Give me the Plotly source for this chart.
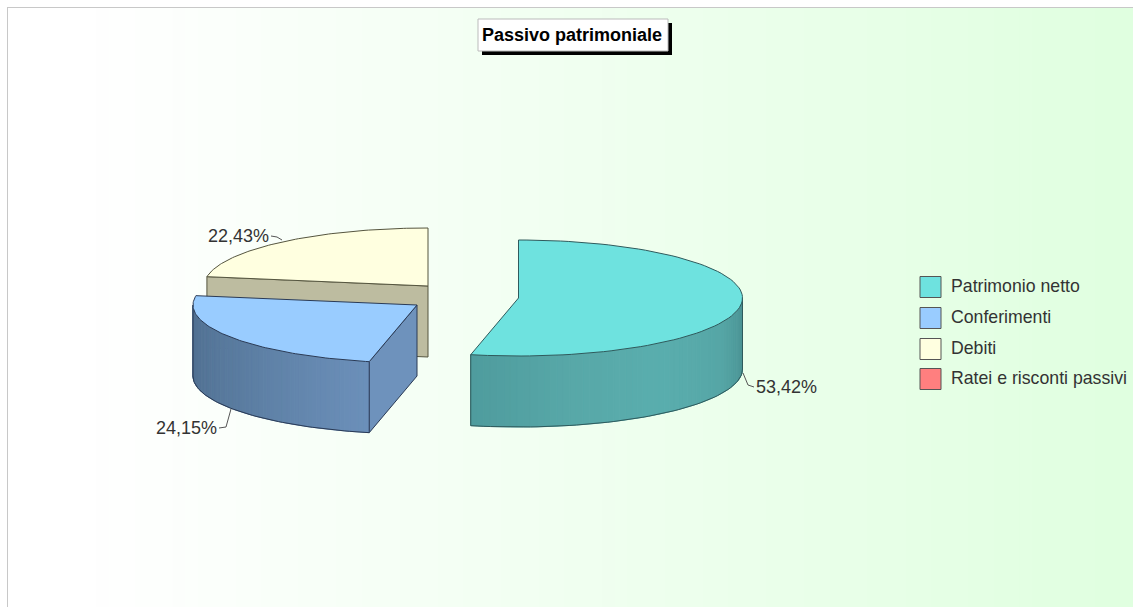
"""
Passivo patrimoniale: exploded 3D-look pie drawn on pixel-sized axes
"""

import numpy as np
import plotly.graph_objects as go

# Data
labels = ["Patrimonio netto", "Conferimenti", "Debiti", "Ratei e risconti passivi"]
values = [53.42, 24.15, 22.43, 0.0]
title_text = "Passivo patrimoniale"

# Styles
top_colors = ["#6EE2DF", "#99CCFF", "#FFFFE0", "#FF7F7F"]
edge_colors = ["#2F5A5C", "#2A3A55", "#55553F", "#553333"]
FONT = "Liberation Sans, Arial, sans-serif"
TEXT_COLOR = "#333333"

# Pie geometry
WIDTH, HEIGHT = 1133, 607
RX, RY, DEPTH = 224, 58, 71
centers = [(518.5, 298), (417, 305), (428, 286), (518.5, 298)]


def hex_rgb(c):
    return np.array([int(c[i:i + 2], 16) for i in (1, 3, 5)], dtype=float)


def mix(stops, t):
    """Interpolate a colour between evenly spaced stops"""
    pos = t * (len(stops) - 1)
    i = min(int(pos), len(stops) - 2)
    rgb = hex_rgb(stops[i]) * (1 - (pos - i)) + hex_rgb(stops[i + 1]) * (pos - i)
    return "rgb(%d,%d,%d)" % tuple(rgb)


def rim(center, deg, drop=0):
    """Point on the slice rim, degrees run clockwise from 12 o'clock"""
    a = np.radians(deg)
    return center[0] + RX * np.sin(a), center[1] - RY * np.cos(a) + drop


def polygon(fig, xs, ys, fill, line=None, width=1):
    fig.add_trace(go.Scatter(
        x=list(xs), y=list(ys), mode="lines", fill="toself", fillcolor=fill,
        line=dict(color=line or fill, width=width), hoverinfo="skip", showlegend=False,
    ))


def outer_wall(fig, center, a0, a1, stops, edge):
    """Curved side of a slice, split in thin strips for the shading"""
    steps = np.linspace(a0, a1, 61)
    for k in range(60):
        x0, y0 = rim(center, steps[k])
        x1, y1 = rim(center, steps[k + 1])
        color = mix(stops, (k + 0.5) / 60)
        polygon(fig, [x0, x1, x1, x0, x0], [y0, y1, y1 + DEPTH, y0 + DEPTH, y0], color)
    xb, yb = zip(*[rim(center, a, DEPTH) for a in steps])
    fig.add_trace(go.Scatter(x=xb, y=yb, mode="lines", line=dict(color=edge, width=1),
                             hoverinfo="skip", showlegend=False))
    for a in (a0, a1):
        x, y = rim(center, a)
        fig.add_trace(go.Scatter(x=[x, x], y=[y, y + DEPTH], mode="lines",
                                 line=dict(color=edge, width=1),
                                 hoverinfo="skip", showlegend=False))


def top_face(fig, center, a0, a1, fill, edge):
    steps = np.linspace(a0, a1, 90)
    xs, ys = zip(*[rim(center, a) for a in steps])
    polygon(fig, [center[0], *xs, center[0]], [center[1], *ys, center[1]], fill, edge)


def leader(fig, xs, ys):
    fig.add_trace(go.Scatter(x=xs, y=ys, mode="lines", line=dict(color="#555555", width=1),
                             hoverinfo="skip", showlegend=False))


fig = go.Figure()

# Slice angles come from the values
ends = np.cumsum(values) / sum(values) * 360
starts = np.concatenate([[0], ends[:-1]])

# Debiti, behind everything: only its flat cut is visible
c = centers[2]
xf, yf = rim(c, starts[2])
polygon(fig, [xf, c[0], c[0], xf, xf], [yf, c[1], c[1] + DEPTH, yf + DEPTH, yf], "#BDBCA0", edge_colors[2])
top_face(fig, c, starts[2], ends[2], top_colors[2], edge_colors[2])

# Conferimenti
c = centers[1]
xn, yn = rim(c, starts[1])
polygon(fig, [xn, c[0], c[0], xn, xn], [yn, c[1], c[1] + DEPTH, yn + DEPTH, yn], "#6E92BC", edge_colors[1])
outer_wall(fig, c, 270, starts[1], ["#4F6E8F", "#5B7DA1", "#6C90BA"], edge_colors[1])
top_face(fig, c, starts[1], ends[1], top_colors[1], edge_colors[1])

# Patrimonio netto
c = centers[0]
outer_wall(fig, c, 90, ends[0], ["#488E90", "#56A6A6", "#5AAEAE", "#58A8A8", "#4F9C9E"], edge_colors[0])
top_face(fig, c, starts[0], ends[0], top_colors[0], edge_colors[0])

# Leader lines and percentage labels
leader(fig, [271, 277, 282], [236, 237, 240])
leader(fig, [219, 226, 231], [428, 427, 409])
leader(fig, [754, 748, 743], [387, 385, 373])
pct = [f"{v:.2f}".replace(".", ",") + "%" for v in values]
fig.add_trace(go.Scatter(
    x=[756, 217, 269], y=[388, 429, 237], text=pct[:3], mode="text",
    textposition=["middle right", "middle left", "middle left"],
    textfont=dict(family=FONT, size=18, color=TEXT_COLOR),
    hoverinfo="skip", showlegend=False,
))

# Hand-placed legend
legend_y = [287, 318, 349, 379]
fig.add_trace(go.Scatter(
    x=[930.5] * 4, y=legend_y, mode="markers",
    marker=dict(symbol="square", size=21, color=top_colors, line=dict(color="#555555", width=1)),
    hoverinfo="skip", showlegend=False,
))
fig.add_trace(go.Scatter(
    x=[951] * 4, y=[y + 1 for y in legend_y], mode="text", text=labels, textposition="middle right",
    textfont=dict(family=FONT, size=17.7, color=TEXT_COLOR),
    hoverinfo="skip", showlegend=False,
))

# Background bands from white to pale green, with the grey frame on top and left
shapes = []
bands = np.linspace(8, WIDTH, 90)
for b0, b1 in zip(bands[:-1], bands[1:]):
    t = max(0.0, ((b0 + b1) / 2 - 100) / (WIDTH - 100))
    shapes.append(dict(type="rect", layer="below", x0=b0, x1=b1 + 1, y0=8, y1=HEIGHT,
                       fillcolor=mix(["#FFFFFF", "#E0FFE0"], t), line=dict(width=0)))
shapes.append(dict(type="line", layer="below", x0=7.5, x1=7.5, y0=7, y1=HEIGHT, line=dict(color="#C8C8C8", width=1)))
shapes.append(dict(type="line", layer="below", x0=7, x1=WIDTH, y0=7.5, y1=7.5, line=dict(color="#C8C8C8", width=1)))

# Title box with its hard shadow
shapes.append(dict(type="rect", layer="below", x0=482, x1=672, y0=23, y1=55,
                   fillcolor="#000000", line=dict(width=0)))
shapes.append(dict(type="rect", layer="below", x0=478, x1=668, y0=19, y1=51,
                   fillcolor="#FFFFFF", line=dict(color="#BBBBBB", width=1)))

fig.update_layout(
    width=WIDTH, height=HEIGHT, margin=dict(l=0, r=0, t=0, b=0),
    paper_bgcolor="white", plot_bgcolor="white", showlegend=False, shapes=shapes,
    xaxis=dict(range=[0, WIDTH], visible=False, fixedrange=True),
    yaxis=dict(range=[HEIGHT, 0], visible=False, fixedrange=True),
    annotations=[dict(x=572, y=35, text=f"<b>{title_text}</b>", showarrow=False,
                      font=dict(family=FONT, size=18, color="#000000"))],
)

fig.write_html("out.html", config=dict(displayModeBar=False),
               post_script="document.body.style.margin='0';document.body.style.overflow='hidden';")
